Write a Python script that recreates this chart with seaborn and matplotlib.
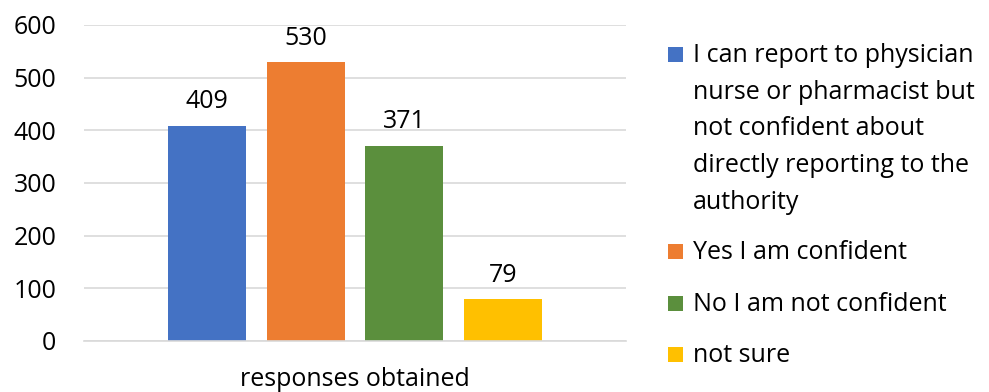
import matplotlib
matplotlib.use("Agg")
import matplotlib.pyplot as plt
import seaborn as sns
import pandas as pd
from matplotlib.patches import Rectangle

categories = [
    "I can report to physician\nnurse or pharmacist but\nnot confident about\ndirectly reporting to the\nauthority",
    "Yes I am confident",
    "No I am not confident",
    "not sure",
]
values = [409, 530, 371, 79]
group = "responses obtained"
colors = ["#4472C4", "#ED7D31", "#5B8F3D", "#FFC000"]
yticks = [0, 100, 200, 300, 400, 500, 600]

FS = 18
sns.set_theme(style="white")
plt.rcParams["font.family"] = ["Open Sans", "DejaVu Sans"]

df = pd.DataFrame({"group": [group] * len(values), "category": categories, "value": values})

W, H = 989, 392
fig = plt.figure(figsize=(W / 100, H / 100), dpi=100)
ax = fig.add_axes([84 / W, 1 - 341 / H, (626 - 84) / W, (341 - 25) / H])

sns.barplot(data=df, x="group", y="value", hue="category", hue_order=categories,
            palette=colors, width=0.727, gap=0.21, ax=ax, legend=False,
            saturation=1, edgecolor="none")

ax.set_xlim(-0.5, 0.5)
ax.set_ylim(0, 600)
ax.set_yticks(yticks)
ax.set_yticklabels([str(t) for t in yticks], fontsize=FS, color="#000000")
ax.tick_params(axis="y", length=0, pad=20)
ax.tick_params(axis="x", length=0, pad=19, labelsize=FS, labelcolor="#000000")
ax.set_xlabel("")
ax.set_ylabel("")
ax.grid(axis="y", color="#D9D9D9", linewidth=1.2)
ax.set_axisbelow(True)
for s in ["top", "right", "left"]:
    ax.spines[s].set_visible(False)
ax.spines["bottom"].set_color("#D9D9D9")
ax.spines["bottom"].set_linewidth(1.2)

for cont in ax.containers:
    ax.bar_label(cont, fmt="%d", padding=8, fontsize=FS, color="#000000")

# legend (manual, swatch aligned with first line of wrapped text)
baselines = [62, 259, 311, 362]
line_gap = 36.7
for lab, col, yb in zip(categories, colors, baselines):
    fig.patches.append(Rectangle((668 / W, 1 - yb / H), 15 / W, 15 / H,
                                 transform=fig.transFigure, facecolor=col,
                                 edgecolor="none"))
    for i, line in enumerate(lab.split("\n")):
        fig.text(693 / W, 1 - (yb + i * line_gap) / H, line, fontsize=FS,
                 va="baseline", ha="left", color="#000000")

fig.savefig("out.png", dpi=100)
